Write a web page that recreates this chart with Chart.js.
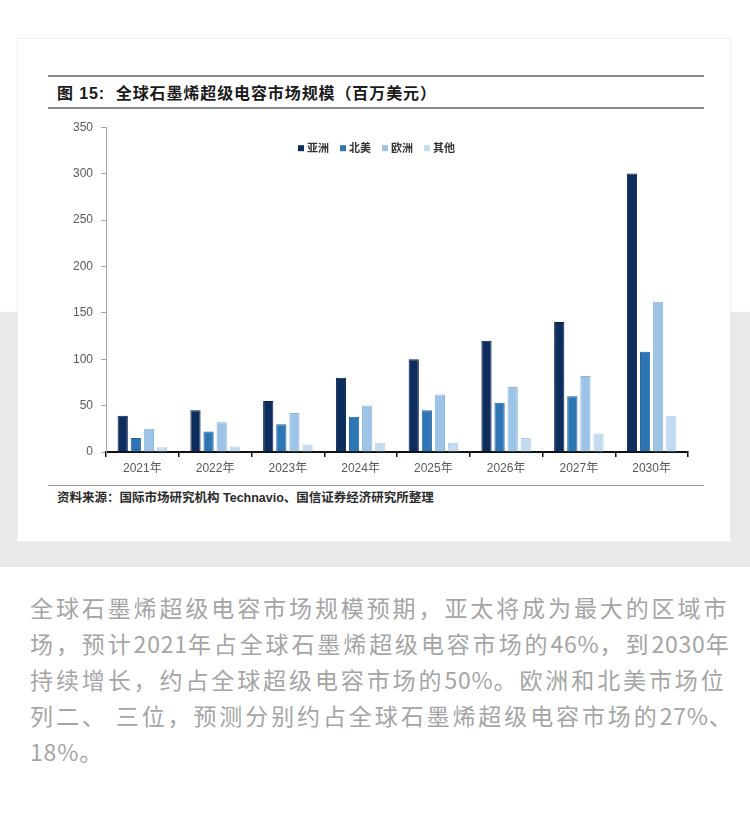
<!DOCTYPE html>
<html>
<head>
<meta charset="utf-8">
<script src="https://cdn.jsdelivr.net/npm/chart.js@4"></script>
<style>
	body { margin:0; width:750px; height:828px; background:#fff; position:relative; overflow:hidden; font-family:"Liberation Sans","Noto Sans CJK SC",sans-serif; }
	#band { position:absolute; left:0; top:312px; width:750px; height:255px; background:#eae8e9; }
	#card { position:absolute; left:17px; top:38px; width:712px; height:502px; background:#fff; border:1px solid #efefef; }
	.rule { position:absolute; left:48px; width:656px; background:#8c8c8c; }
	#title { position:absolute; left:57px; top:80px; font-size:16px; font-weight:bold; color:#1a1a1a; letter-spacing:0.9px; font-family:"Liberation Sans","Noto Sans CJK SC",sans-serif; }
	#source { position:absolute; left:57px; top:487px; font-size:12.5px; font-weight:bold; color:#2b2b2b; font-family:"Liberation Sans","Noto Sans CJK SC",sans-serif; }
	#chartBox { position:absolute; left:40px; top:112px; width:670px; height:370px; }
	#para { position:absolute; left:30px; top:589px; font-family:"Noto Sans CJK SC",sans-serif; font-size:23px; line-height:36px; color:#a5a5a5; letter-spacing:2.9px; white-space:nowrap; }
	#para span { letter-spacing:0.8px; }
</style>
</head>
<body>
<div id="band"></div>
<div id="card"></div>
<div class="rule" style="top:75px;height:2px"></div>
<div id="title">图 15:&nbsp;&nbsp;全球石墨烯超级电容市场规模（百万美元）</div>
<div class="rule" style="top:107px;height:2px"></div>
<div id="chartBox"><canvas id="myChart" width="670" height="370"></canvas></div>
<div class="rule" style="top:485px;height:1px;background:#9a9a9a"></div>
<div id="source">资料来源：国际市场研究机构 Technavio、国信证券经济研究所整理</div>
<div id="para">
	<div>全球石墨烯超级电容市场规模预期，亚太将成为最大的区域市</div>
	<div>场，预计<span>2021</span>年占全球石墨烯超级电容市场的<span>46%</span>，到<span>2030</span>年</div>
	<div>持续增长，约占全球超级电容市场的<span>50%</span>。欧洲和北美市场位</div>
	<div>列二、 三位，预测分别约占全球石墨烯超级电容市场的<span>27%</span>、</div>
	<div><span>18%</span>。</div>
</div>
<script>
const years = ['2021年','2022年','2023年','2024年','2025年','2026年','2027年','2030年']
const seriesNames = ['亚洲','北美','欧洲','其他']
const asia = [39, 45, 55, 80, 100, 120, 140, 300]
const northAmerica = [15, 22, 30, 38, 45, 53, 60, 108]
const europe = [25, 32, 42, 50, 62, 70, 82, 162]
const others = [5, 6, 8, 10, 10, 15, 20, 39]
const yTicks = [0, 50, 100, 150, 200, 250, 300, 350]

const fills = ['#0e2d5f', '#2e75b6', '#9dc3e6', '#c2dbf0']
const edges = ['#08204a', '#22639f', '#8ab5de', '#aecde9']

// small one-row legend sitting inside the plot, under the 350 line
const innerLegend = {
	id: 'innerLegend',
	afterDraw(chart) {
		const ctx = chart.ctx
		const area = chart.chartArea
		const y = area.top + 21
		let x = area.left + 192
		ctx.save()
		ctx.font = 'bold 11px "Noto Sans CJK SC", sans-serif'
		ctx.textBaseline = 'middle'
		chart.data.datasets.forEach(ds => {
			ctx.fillStyle = ds.backgroundColor
			ctx.fillRect(x, y - 3, 6, 6)
			ctx.fillStyle = '#333'
			ctx.fillText(ds.label, x + 9, y)
			x += 42
		})
		ctx.restore()
	}
}

new Chart(document.getElementById('myChart'), {
	type: 'bar',
	data: {
		labels: years,
		datasets: [asia, northAmerica, europe, others].map((vals, i) => ({
			label: seriesNames[i],
			data: vals,
			backgroundColor: fills[i],
			borderColor: edges[i],
			borderWidth: 1,
			categoryPercentage: 0.72,
			barPercentage: 0.78,
		})),
	},
	options: {
		responsive: false,
		animation: false,
		layout: { padding: { top: 14, right: 22, left: 0, bottom: 0 } },
		plugins: {
			tooltip: { enabled: false },
			legend: { display: false },
		},
		scales: {
			x: {
				afterFit(scale) { scale.height = 30 },
				grid: { drawOnChartArea: false, drawTicks: true, tickLength: 5, color: '#111', lineWidth: 1.5, offset: true },
				border: { display: true, color: '#111', width: 2 },
				ticks: { color: '#595959', padding: 4, font: { family: '"Liberation Sans","Noto Sans CJK SC"', size: 12 } },
			},
			y: {
				min: 0, max: 350,
				afterFit(scale) { scale.width = 66 },
				afterBuildTicks(scale) { scale.ticks = yTicks.map(v => ({ value: v })) },
				grid: { drawOnChartArea: false, drawTicks: true, tickLength: 5, color: '#a6a6a6' },
				border: { display: true, color: '#a6a6a6', width: 1 },
				ticks: { color: '#595959', padding: 8, font: { family: '"Liberation Sans"', size: 12 } },
			},
		},
	},
	plugins: [innerLegend],
})
</script>
</body>
</html>
